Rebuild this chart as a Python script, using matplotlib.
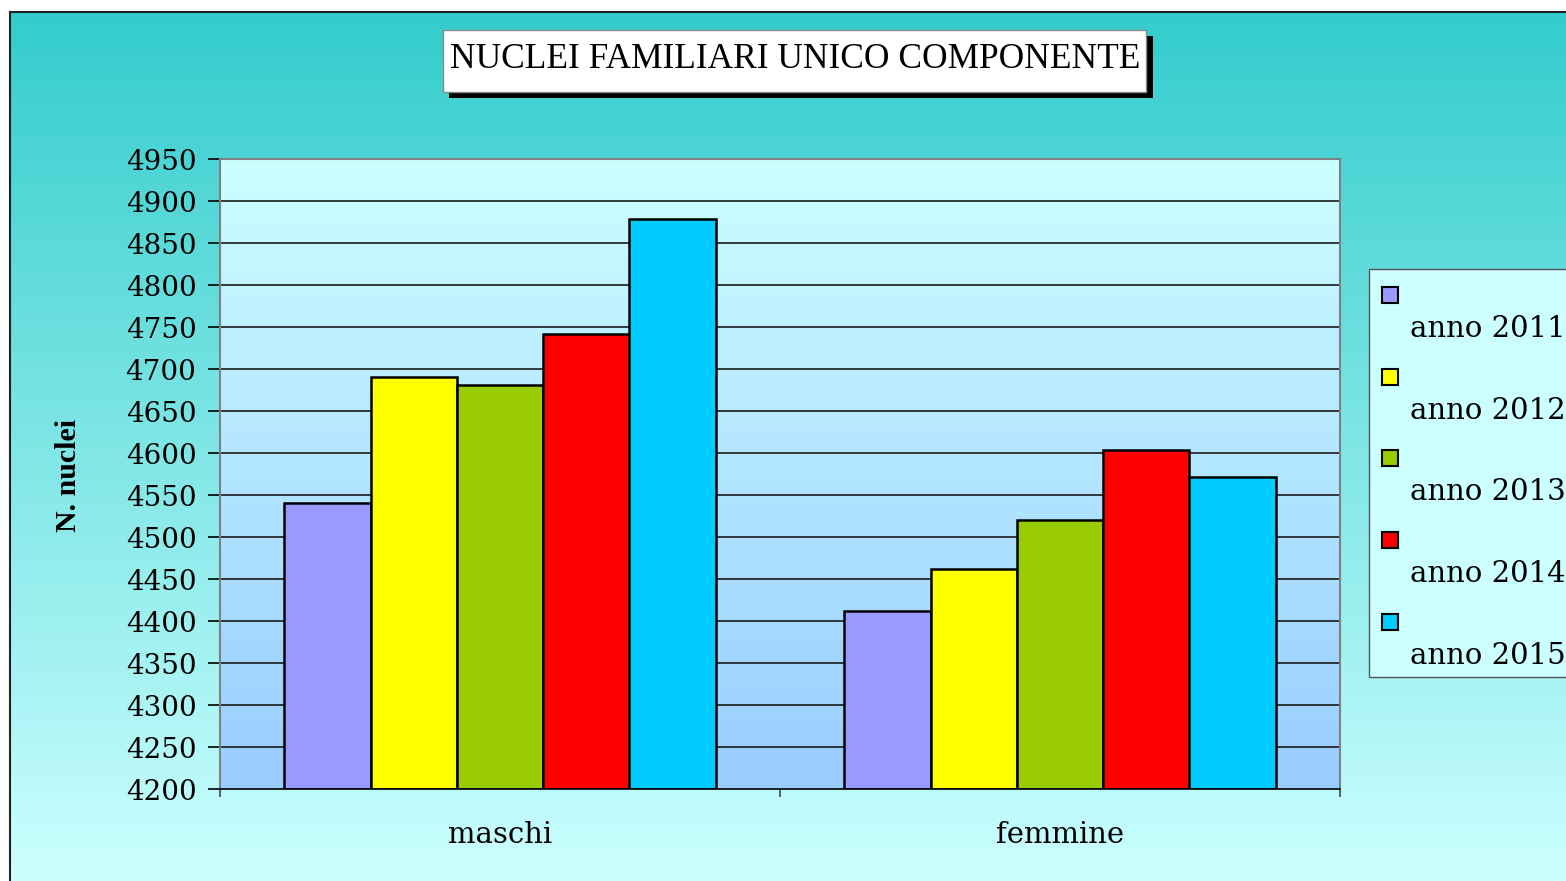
import numpy as np
import matplotlib
matplotlib.use("Agg")
import matplotlib.pyplot as plt
from matplotlib.patches import Rectangle
from matplotlib.colors import LinearSegmentedColormap

# ---- data ----
categories = ["maschi", "femmine"]
series_labels = ["anno 2011", "anno 2012", "anno 2013", "anno 2014", "anno 2015"]
series_colors = ["#9999FF", "#FFFF00", "#99CC00", "#FF0000", "#00CCFF"]
values_2011 = [4540, 4412]
values_2012 = [4690, 4462]
values_2013 = [4681, 4520]
values_2014 = [4742, 4603]
values_2015 = [4879, 4572]
series_values = [values_2011, values_2012, values_2013, values_2014, values_2015]
y_ticks = list(range(4200, 4951, 50))
title = "NUCLEI FAMILIARI UNICO COMPONENTE"
y_label = "N. nuclei"

W, H = 1566, 881
def fx(x): return x / W
def fy(y): return 1 - y / H

fig = plt.figure(figsize=(W / 100, H / 100), dpi=100)
fig.patch.set_facecolor("white")

# outer gradient background
bg = fig.add_axes([fx(10), 0, 1 - fx(10), fy(12)])
grad_outer = LinearSegmentedColormap.from_list("o", ["#33CCCC", "#CCFFFF"])
bg.imshow(np.linspace(0, 1, 256).reshape(-1, 1), aspect="auto", cmap=grad_outer,
          extent=(0, 1, 0, 1), origin="upper")
bg.set_xticks([]); bg.set_yticks([])
for s in ["right", "bottom"]:
    bg.spines[s].set_visible(False)
for s in ["left", "top"]:
    bg.spines[s].set_color("#222222")
    bg.spines[s].set_linewidth(1.5)
bg.set_zorder(0)

# main axes
ax = fig.add_axes([fx(220), fy(789), fx(1340) - fx(220), fy(159) - fy(789)])
ax.set_zorder(1)
grad_in = LinearSegmentedColormap.from_list("i", ["#CCFFFF", "#99CCFF"])
ax.imshow(np.linspace(0, 1, 256).reshape(-1, 1), aspect="auto", cmap=grad_in,
          extent=(-0.5, 1.5, 4200, 4950), origin="upper", zorder=0)
ax.set_ylim(4200, 4950)
ax.set_xlim(-0.5, 1.5)

for t in y_ticks[1:]:
    ax.axhline(t, color="#1a1a1a", lw=1.2, zorder=1)

x = np.arange(len(categories))
bw = 0.154
for i, (vals, col) in enumerate(zip(series_values, series_colors)):
    base = 4200
    ax.bar(x + (i - 2) * bw, np.array(vals) - base, bottom=base, width=bw,
           color=col, edgecolor="black", linewidth=1.8, zorder=2)

ax.set_yticks(y_ticks)
ax.set_yticklabels([str(t) for t in y_ticks], family="DejaVu Serif", fontsize=20)
ax.tick_params(axis="y", length=9, width=1.2, pad=8, color="black")
ax.set_xticks(x)
ax.set_xticklabels(categories, family="DejaVu Serif", fontsize=21)
ax.set_xticks([-0.5, 0.5, 1.5], minor=True)
ax.tick_params(axis="x", which="major", length=0, pad=23)
ax.tick_params(axis="x", which="minor", length=6, width=1.2, color="#444444")
for s in ["left", "right", "top"]:
    ax.spines[s].set_color("#808080")
    ax.spines[s].set_linewidth(1.5)
ax.spines["bottom"].set_color("black")
ax.spines["bottom"].set_linewidth(1.2)

fig.text(fx(68), fy(475), y_label, rotation=90, ha="center", va="center",
         family="Liberation Serif", fontweight="bold", fontsize=21.5)

# title box with shadow
fig.add_artist(Rectangle((fx(449), fy(98)), fx(1153) - fx(449), fy(36) - fy(98),
                         transform=fig.transFigure, facecolor="black", edgecolor="none", zorder=5))
fig.add_artist(Rectangle((fx(443), fy(92)), fx(1146) - fx(443), fy(30) - fy(92),
                         transform=fig.transFigure, facecolor="white", edgecolor="#888888",
                         linewidth=1, zorder=6))
fig.text(fx(795), fy(59), title, ha="center", va="center", family="Liberation Serif",
         fontsize=25.5, zorder=7)

# legend
fig.add_artist(Rectangle((fx(1369), fy(677)), fx(1580) - fx(1369), fy(269) - fy(677),
                         transform=fig.transFigure, facecolor="#CCFFFF", edgecolor="#555555",
                         linewidth=1, zorder=5))
step = 81.7
for i, (lab, col) in enumerate(zip(series_labels, series_colors)):
    top = 287 + i * step
    fig.add_artist(Rectangle((fx(1382), fy(top + 16)), fx(16), fy(0) - fy(16),
                             transform=fig.transFigure, facecolor=col, edgecolor="black",
                             linewidth=1.5, zorder=6))
    fig.text(fx(1410), fy(329 + i * step), lab, ha="left", va="center",
             family="DejaVu Serif", fontsize=21, zorder=7)

fig.savefig("out.png", dpi=100)
